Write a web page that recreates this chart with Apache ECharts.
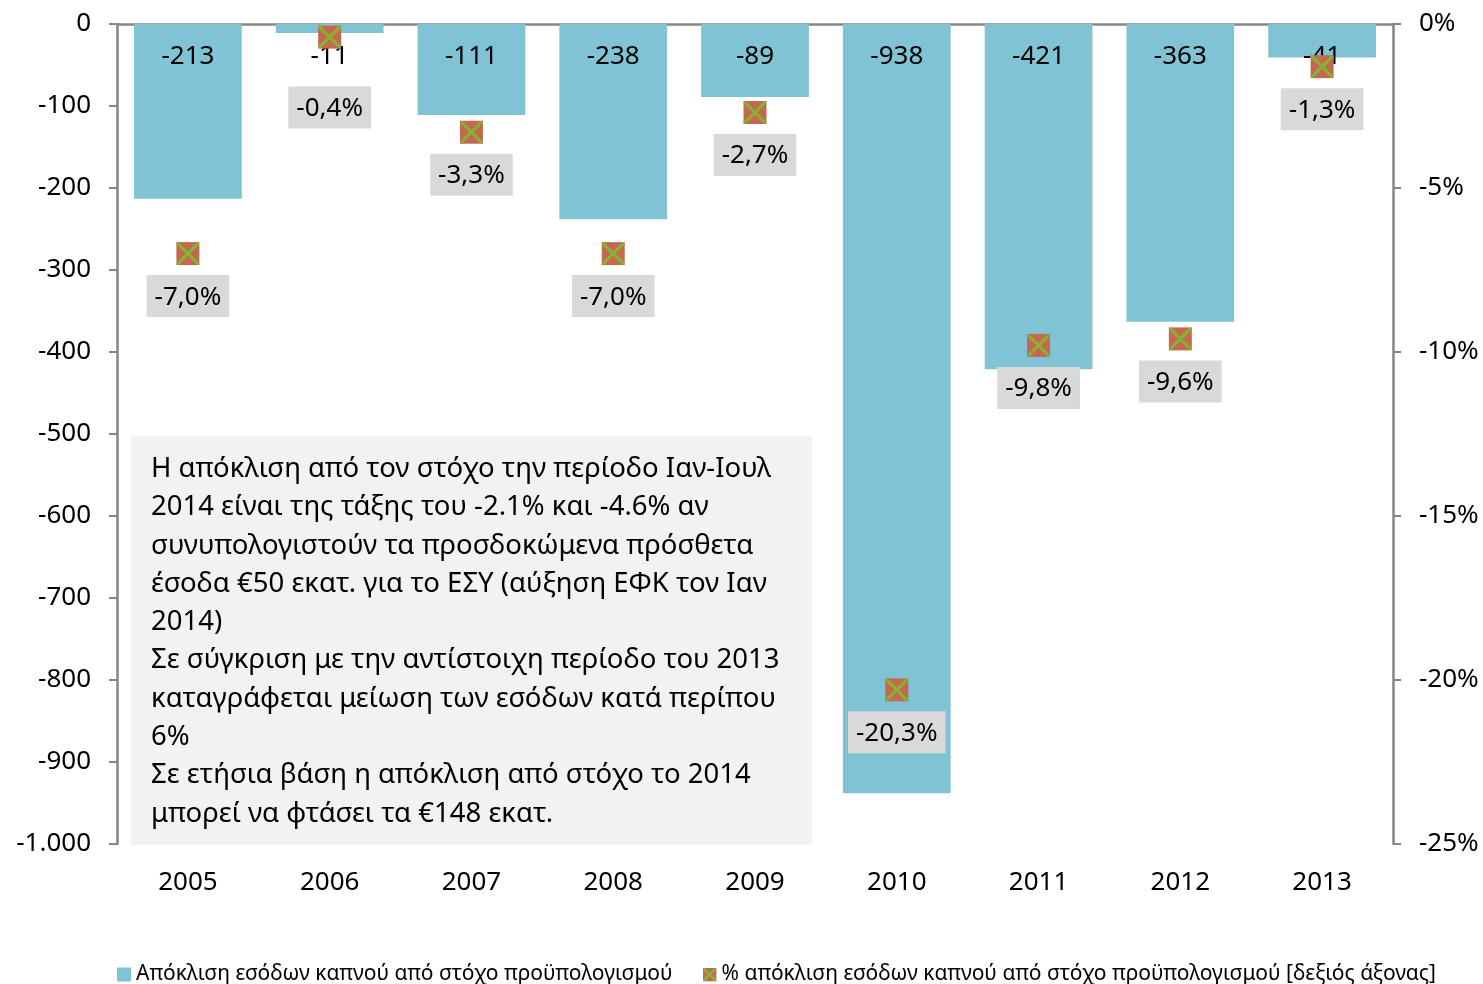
<!DOCTYPE html>
<html>
<head>
<meta charset="utf-8">
<script src="https://cdn.jsdelivr.net/npm/echarts@6/dist/echarts.min.js"></script>
<style>
  html, body { margin: 0; padding: 0; background: #fff; }
  #main { width: 1483px; height: 984px; }
</style>
</head>
<body>
<div id="main"></div>
<script>
// categories and values
var years = ['2005', '2006', '2007', '2008', '2009', '2010', '2011', '2012', '2013']
var deviation = [-213, -11, -111, -238, -89, -938, -421, -363, -41]
var deviationPct = [-7.0, -0.4, -3.3, -7.0, -2.7, -20.3, -9.8, -9.6, -1.3]
var noteLines = [
  'Η απόκλιση από τον στόχο την περίοδο Ιαν-Ιουλ',
  '2014 είναι της τάξης του -2.1% και -4.6% αν',
  'συνυπολογιστούν τα προσδοκώμενα πρόσθετα',
  'έσοδα €50 εκατ. για το ΕΣΥ (αύξηση ΕΦΚ τον Ιαν',
  '2014)',
  'Σε σύγκριση με την αντίστοιχη περίοδο του 2013',
  'καταγράφεται μείωση των εσόδων κατά περίπου',
  '6%',
  'Σε ετήσια βάση η απόκλιση από στόχο το 2014',
  'μπορεί να φτάσει τα €148 εκατ.'
]

var FONT = 'Noto Sans'
var axisGray = '#868686'
var barColor = '#7fc3d4'
var markFill = '#c4694f'
var markCross = '#86b332'

// legend icon for the % series (square with a cross), as inline svg
var crossSvg = '<svg xmlns="http://www.w3.org/2000/svg" width="14" height="14">' +
  '<rect width="14" height="14" fill="' + markFill + '"/>' +
  '<path d="M1,1L13,13M13,1L1,13" stroke="' + markCross + '" stroke-width="2.5"/></svg>'
var crossIcon = 'image://data:image/svg+xml;charset=utf-8,' + encodeURIComponent(crossSvg)

function thousands (v) {
  var s = String(Math.abs(v)).replace(/\B(?=(\d{3})+(?!\d))/g, '.')
  return (v < 0 ? '-' : '') + s
}

var pctData = deviationPct.map(function (v, i) {
  // the 2006 label sits lower so it clears the bar label
  if (i === 1) return { value: v, label: { distance: 38 } }
  return v
})

var chart = echarts.init(document.getElementById('main'))
var option = {
  animation: false,
  textStyle: { fontFamily: FONT, color: '#000' },
  grid: { left: 117, right: 90, top: 24, bottom: 140 },
  legend: {
    top: 959,
    left: 112,
    itemWidth: 14,
    itemHeight: 14,
    itemGap: 30,
    textStyle: { fontFamily: FONT, fontSize: 21, color: '#000' },
    data: [
      { name: 'Απόκλιση εσόδων καπνού από στόχο προϋπολογισμού', icon: 'rect' },
      { name: '% απόκλιση εσόδων καπνού από στόχο προϋπολογισμού [δεξιός άξονας]', icon: crossIcon }
    ]
  },
  xAxis: [
    {
      type: 'category',
      position: 'top',
      data: years,
      axisLine: { onZero: false, lineStyle: { color: axisGray, width: 2.5 } },
      axisTick: { inside: true, length: 9, lineStyle: { color: axisGray, width: 2 } },
      axisLabel: { show: false }
    },
    {
      type: 'category',
      position: 'bottom',
      data: years,
      axisLine: { show: false },
      axisTick: { show: false },
      axisLabel: { margin: 26, fontSize: 26, color: '#000', fontFamily: FONT }
    }
  ],
  yAxis: [
    {
      type: 'value',
      min: -1000,
      max: 0,
      interval: 100,
      splitLine: { show: false },
      axisLine: { show: true, lineStyle: { color: axisGray, width: 2.5 } },
      axisTick: { show: true, length: 8, lineStyle: { color: axisGray, width: 2 } },
      axisLabel: { margin: 26, fontSize: 26, color: '#000', fontFamily: FONT, formatter: thousands }
    },
    {
      type: 'value',
      min: -25,
      max: 0,
      interval: 5,
      position: 'right',
      splitLine: { show: false },
      axisLine: { show: true, lineStyle: { color: axisGray, width: 2.5 } },
      axisTick: { show: true, length: 8, lineStyle: { color: axisGray, width: 2 } },
      axisLabel: { margin: 26, fontSize: 26, color: '#000', fontFamily: FONT, formatter: '{value}%' }
    }
  ],
  series: [
    {
      name: 'Απόκλιση εσόδων καπνού από στόχο προϋπολογισμού',
      type: 'bar',
      xAxisIndex: 0,
      yAxisIndex: 0,
      barWidth: '76%',
      data: deviation,
      itemStyle: { color: barColor },
      label: {
        show: true,
        position: 'insideTop',
        distance: 20,
        fontSize: 26,
        color: '#000',
        fontFamily: FONT
      }
    },
    {
      name: '% απόκλιση εσόδων καπνού από στόχο προϋπολογισμού [δεξιός άξονας]',
      type: 'scatter',
      xAxisIndex: 0,
      yAxisIndex: 1,
      symbol: 'rect',
      symbolSize: 23,
      data: pctData,
      itemStyle: { color: markFill, opacity: 1 },
      label: {
        show: true,
        position: 'bottom',
        distance: 10,
        fontSize: 26,
        color: '#000',
        fontFamily: FONT,
        backgroundColor: '#d9d9d9',
        padding: [9, 8, 7, 8],
        formatter: function (p) {
          return p.value.toFixed(1).replace('.', ',') + '%'
        }
      },
      z: 3
    },
    {
      // green cross on top of each marker
      name: 'cross',
      type: 'scatter',
      xAxisIndex: 0,
      yAxisIndex: 1,
      symbol: 'path://M0,0L10,10M10,0L0,10',
      symbolSize: 21,
      data: deviationPct,
      itemStyle: { color: 'rgba(0,0,0,0)', borderColor: markCross, borderWidth: 3, opacity: 1 },
      silent: true,
      z: 4
    }
  ],
  graphic: [
    {
      type: 'rect',
      left: 131,
      top: 436,
      shape: { width: 681, height: 409 },
      style: { fill: '#f2f2f2' },
      z: 10
    },
    {
      type: 'text',
      left: 151,
      top: 450,
      style: {
        text: noteLines.join('\n'),
        font: '27.5px "' + FONT + '"',
        lineHeight: 38.3,
        fill: '#000'
      },
      z: 11
    }
  ]
}
chart.setOption(option)
</script>
</body>
</html>
